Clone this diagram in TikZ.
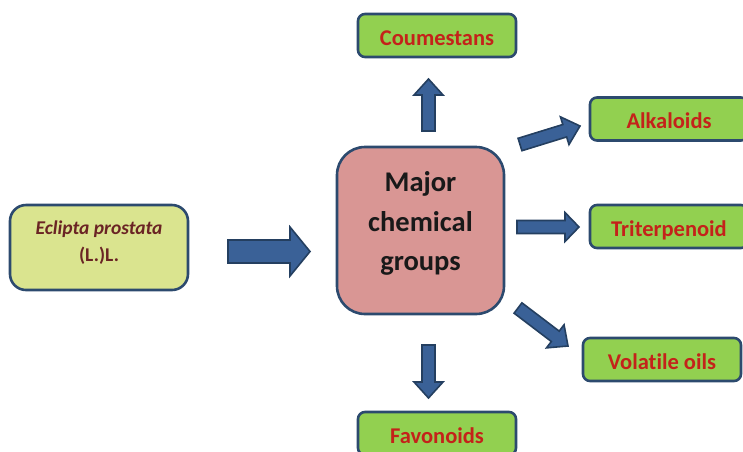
\documentclass[tikz,border=0pt]{standalone}
\usepackage{fontspec}
\setmainfont[Ligatures={NoCommon}]{Carlito}
\usetikzlibrary{calc}
\definecolor{bordc}{HTML}{2C4A6E}
\definecolor{arrfill}{HTML}{3A6197}
\definecolor{arrline}{HTML}{243F60}
\definecolor{leafgreen}{HTML}{92D050}
\definecolor{leafred}{HTML}{C4221A}
\definecolor{centfill}{HTML}{D99694}
\definecolor{srcfill}{HTML}{DAE48F}
\definecolor{srctext}{HTML}{6A2424}
\tikzset{
  leaf/.style={draw=bordc, line width=2.6pt, fill=leafgreen, rounded corners=7pt,
    minimum width=158pt, minimum height=43pt, inner sep=0pt,
    text height=21pt, text depth=2pt,
    font=\fontsize{22.5}{26}\selectfont\bfseries, text=leafred},
  centbox/.style={draw=bordc, line width=2.6pt, fill=centfill, rounded corners=28pt,
    minimum width=167pt, minimum height=167pt, inner sep=0pt},
  centtext/.style={align=center, font=\fontsize{28.5}{39.5}\selectfont\bfseries, text=black!90},
  srcbox/.style={draw=bordc, line width=2.6pt, fill=srcfill, rounded corners=16pt,
    minimum width=178pt, minimum height=85pt, inner sep=0pt},
  srctext/.style={align=center, font=\fontsize{19.5}{27}\selectfont\bfseries, text=srctext},
  fatarrow/.style={draw=arrline, line width=1.6pt, fill=arrfill, line join=miter}
}
% fat arrow between two named coordinates: #1 tail, #2 tip, #3 shaft half-width, #4 head half-width, #5 head length
\newcommand{\fatarrowdraw}[5]{%
  \draw[fatarrow]
    ($(#1)!#3!90:(#2)$) --
    ($($(#2)!#5!(#1)$)!#3!-90:(#1)$) --
    ($($(#2)!#5!(#1)$)!#4!-90:(#1)$) --
    (#2) --
    ($($(#2)!#5!(#1)$)!#4!90:(#1)$) --
    ($($(#2)!#5!(#1)$)!#3!90:(#1)$) --
    ($(#1)!#3!-90:(#2)$) -- cycle;}
\begin{document}
\begin{tikzpicture}[x=1pt,y=-1pt]
\useasboundingbox (0,0) rectangle (743,451);
\clip (0,0) rectangle (743,451);
\node[srcbox, label={[srctext, yshift=5pt]center:\textit{Eclipta prostata}\\(L.)L.}] (src) at (99,247.5) {};
\node[centbox, label={[centtext, yshift=7pt]center:Major\\chemical\\groups}] (cent) at (420.5,230.5) {};
\node[leaf] (cou) at (437,35.5) {Coumestans};
\node[leaf] (alk) at (669,119) {Alkaloids};
\node[leaf] (tri) at (669,226.5) {Triterpenoid};
\node[leaf] (vol) at (662,359.5) {Volatile oils};
\node[leaf] (fav) at (437,433.5) {Favonoids};
% arrow end points
\coordinate (a1s) at (228,251.5);
\coordinate (a1e) at (310,251.5);
\coordinate (a2s) at (428.5,131);
\coordinate (a2e) at (428.5,79);
\coordinate (a3s) at (520,144.5);
\coordinate (a3e) at (580,126);
\coordinate (a4s) at (517,227);
\coordinate (a4e) at (579,227);
\coordinate (a5s) at (518,308);
\coordinate (a5e) at (568,346);
\coordinate (a6s) at (428.5,345);
\coordinate (a6e) at (428.5,398);
\fatarrowdraw{a1s}{a1e}{11.5pt}{24.5pt}{20pt}
\fatarrowdraw{a2s}{a2e}{6.5pt}{14.5pt}{16pt}
\fatarrowdraw{a3s}{a3e}{6.5pt}{14.5pt}{16pt}
\fatarrowdraw{a4s}{a4e}{6.5pt}{14.5pt}{14pt}
\fatarrowdraw{a5s}{a5e}{6.5pt}{14.5pt}{16pt}
\fatarrowdraw{a6s}{a6e}{6.5pt}{14.5pt}{16pt}
\end{tikzpicture}
\end{document}
